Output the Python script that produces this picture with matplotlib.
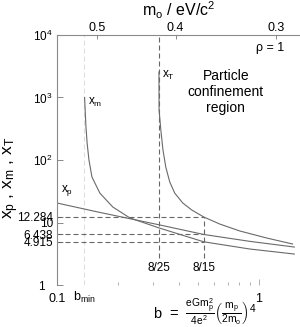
import numpy as np
import matplotlib
matplotlib.use('Agg')
import matplotlib.pyplot as plt
import matplotlib.transforms as mtransforms
from matplotlib.ticker import LogLocator, NullFormatter

plt.rcParams['font.family'] = ['Liberation Sans', 'DejaVu Sans']
plt.rcParams['mathtext.fontset'] = 'custom'
plt.rcParams['mathtext.rm'] = 'Liberation Sans'
plt.rcParams['mathtext.it'] = 'Liberation Sans:italic'
plt.rcParams['mathtext.default'] = 'regular'

# curves
b_p = [0.1, 0.163, 0.23, 0.32, 0.533, 0.9, 1.5]
x_p = [20.5, 14.5, 11.5, 9.2, 6.438, 5.0, 4.05]

b_m = [0.137, 0.139, 0.141, 0.144, 0.149, 0.163, 0.189, 0.23, 0.32, 0.533, 0.9, 1.5]
x_m = [1000, 360, 187, 100, 53.5, 29.6, 17.7, 11.8, 8.2, 4.915, 3.77, 3.13]

b_T = [0.32, 0.3205, 0.327, 0.335, 0.346, 0.362, 0.383, 0.42, 0.466, 0.533, 0.64, 0.806, 1.094, 1.47]
x_T = [2560, 631, 302, 145, 77, 44.5, 29.6, 20.5, 15.8, 12.284, 9.46, 7.31, 5.65, 4.53]

# marked values
b_min = 0.136
b_marks = [8/25, 8/15]
b_mark_labels = ['8/25', '8/15']
y_marks = [12.284, 6.438, 4.915]

# top axis: m_o (eV/c^2), b = C / m_o^4
C = 0.0099
m_ticks = [0.5, 0.4, 0.3]

yticks = [1, 4.915, 6.438, 10, 12.284, 100, 1000, 10000]
ylabels = ['1', '4.915', '6.438', '10', '12.284', '$10^2$', '$10^3$', '$10^4$']

curve_col = '#6a6a6a'
dash_col = '#666666'
axis_col = '#8a8a8a'
dash = (0, (4.5, 2.7))

fig = plt.figure(figsize=(3, 3.27), dpi=100)
ax = fig.add_axes([0.19, 0.1284, 0.81, 0.7646])
ax.set_xscale('log')
ax.set_yscale('log')
ax.set_xlim(0.1, 1.6)
ax.set_ylim(1, 1e4)

# b_min guide
ax.axvline(b_min, color='#dedede', lw=0.8, ls=dash)

# dashed guides
ax.vlines(b_marks[0], 2.7, 1e4, color=dash_col, lw=0.8, ls=dash)
ax.vlines(b_marks[1], 2.7, y_marks[0], color=dash_col, lw=0.8, ls=dash)
ax.hlines(y_marks, 0.1, b_marks[1], color=dash_col, lw=0.8, ls=dash)

ax.plot(b_p, x_p, color=curve_col, lw=0.8)
ax.plot(b_m, x_m, color=curve_col, lw=0.8)
ax.plot(b_T, x_T, color=curve_col, lw=0.8)

for b, lab in zip(b_marks, b_mark_labels):
    ax.text(b, 1.87, lab, ha='center', va='center', fontsize=8.5)

ax.text(0.33, 2290, 'x$_T$', ha='left', va='center', fontsize=8.5)
ax.text(0.1423, 848, 'x$_m$', ha='left', va='center', fontsize=8.5)
ax.text(0.1047, 33, 'x$_p$', ha='left', va='center', fontsize=8.5)
ax.text(0.876, 0.948, 'ρ = 1', transform=ax.transAxes, ha='center', va='center', fontsize=9)
ax.text(0.695, 0.772, 'Particle\nconfinement\nregion', transform=ax.transAxes,
        ha='center', va='center', fontsize=10, linespacing=1.15)

ax.set_yticks(yticks)
ax.set_yticklabels(ylabels, fontsize=8.5)
ax.yaxis.set_minor_locator(LogLocator(base=10, subs=np.arange(2, 10)))
ax.yaxis.set_minor_formatter(NullFormatter())
ax.set_xticks([0.1, 1])
ax.set_xticklabels(['0.1', '1'], fontsize=9)
ax.xaxis.set_minor_locator(LogLocator(base=10, subs=np.arange(2, 10)))
ax.xaxis.set_minor_formatter(NullFormatter())
ax.tick_params(which='both', direction='in', color=axis_col, width=0.7)
ax.tick_params(which='major', length=4, pad=3)
ax.tick_params(which='minor', length=2)
ax.tick_params(axis='x', which='both', color='#b0b0b0', pad=6)

# the "1" on the y axis sits further left
lab1 = ax.get_yticklabels()[0]
lab1.set_transform(lab1.get_transform() + mtransforms.ScaledTranslation(-8/100, 0, fig.dpi_scale_trans))

ax.text(b_min, -0.05, 'b$_{min}$', transform=ax.get_xaxis_transform(),
        ha='center', va='center', fontsize=9)

for s in ['bottom', 'right', 'top']:
    ax.spines[s].set_visible(False)
ax.spines['left'].set_color(axis_col)
ax.spines['left'].set_linewidth(0.8)

ax.set_ylabel('x$_p$ , x$_m$ , x$_T$', fontsize=12.5)
ax.yaxis.set_label_coords(-0.15, 0.43)

ax2 = ax.twiny()
ax2.set_xscale('log')
ax2.set_xlim(ax.get_xlim())
ax2.set_xticks([C / m**4 for m in m_ticks])
ax2.set_xticklabels([str(m) for m in m_ticks], fontsize=9)
ax2.minorticks_off()
ax2.tick_params(direction='in', length=3, color=axis_col, width=0.7, pad=1)
for s in ['bottom', 'right', 'left']:
    ax2.spines[s].set_visible(False)
ax2.spines['top'].set_color(axis_col)
ax2.spines['top'].set_linewidth(0.8)
ax2.set_xlabel('m$_o$ / eV/c$^2$', fontsize=11.5, labelpad=4)

fig.text(0.683, 1 - 312/327,
         r'b  =  $\frac{eGm_p^2}{4e^2}\left(\frac{m_p}{2m_o}\right)^4$',
         ha='center', va='center', fontsize=10.5)

fig.savefig('out.png', dpi=100)
